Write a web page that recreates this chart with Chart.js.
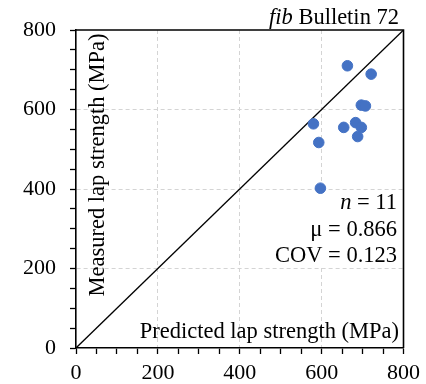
<!DOCTYPE html>
<html>
<head>
<meta charset="UTF-8">
<title>fib Bulletin 72</title>
<script src="https://cdn.jsdelivr.net/npm/chart.js"></script>
<style>
    body { margin: 0; background: #fff; }
    #wrap { width: 426px; height: 384px; }
</style>
</head>
<body>
<div id="wrap"><canvas id="chart"></canvas></div>
<script>
    // values (MPa)
    const predicted = [663, 721, 697, 707, 580, 654, 683, 697, 688, 593, 597];
    const measured  = [710, 689, 611, 609, 564, 555, 567, 555, 532, 517, 402];
    const equalityLine = [0, 800];
    const labelTicks = [0, 200, 400, 600, 800];
    const gridTicks = [200, 400, 600];
    const statLines = [['n', ' = 11'], ['', 'μ = 0.866'], ['', 'COV = 0.123']];

    const serif = '"Liberation Serif", "Times New Roman", serif';

    const points = predicted.map((x, i) => ({ x: x, y: measured[i] }));
    const diag = equalityLine.map(v => ({ x: v, y: v }));

    function gridColor(c) {
        return gridTicks.includes(c.tick && c.tick.value) ? '#d4d4d4' : 'rgba(0,0,0,0)';
    }

    const axis = (fit, pad) => ({
        type: 'linear',
        min: 0,
        max: 800,
        afterFit: fit,
        ticks: {
            stepSize: 50,
            autoSkip: false,
            maxRotation: 0,
            padding: pad,
            color: '#000',
            font: { family: serif, size: 22 },
            callback: v => labelTicks.includes(v) ? String(v) : ''
        },
        grid: {
            color: gridColor,
            lineWidth: 1,
            tickColor: '#000',
            tickLength: 6,
            tickWidth: 1.3
        },
        border: { color: '#000', width: 1.6, dash: [4, 3] }
    });

    // frame, stat box and the in-plot texts
    const overlay = {
        id: 'overlay',
        beforeDatasetsDraw(chart) {
            const ctx = chart.ctx;
            const a = chart.chartArea;
            ctx.save();
            ctx.fillStyle = '#fff';
            ctx.fillRect(268, 192, a.right - 268 - 1, 74);
            ctx.restore();
        },
        afterDraw(chart) {
            const ctx = chart.ctx;
            const a = chart.chartArea;
            const f = '22.5px ' + serif;
            const fi = 'italic 22.5px ' + serif;
            ctx.save();
            ctx.strokeStyle = '#000';
            ctx.lineWidth = 1.6;
            ctx.beginPath();
            ctx.moveTo(a.left, a.top);
            ctx.lineTo(a.right, a.top);
            ctx.lineTo(a.right, a.bottom);
            ctx.stroke();

            ctx.fillStyle = '#000';
            ctx.textBaseline = 'alphabetic';
            ctx.textAlign = 'right';

            // title top right, "fib" in italics
            ctx.font = f;
            const rest = ' Bulletin 72';
            const wRest = ctx.measureText(rest).width;
            ctx.fillText(rest, 399, 24);
            ctx.font = fi;
            ctx.fillText('fib', 399 - wRest, 24);

            // stats
            const base = [209, 235.5, 262];
            statLines.forEach((ln, i) => {
                ctx.font = f;
                const w = ctx.measureText(ln[1]).width;
                ctx.fillText(ln[1], 397, base[i]);
                if (ln[0]) {
                    ctx.font = fi;
                    ctx.fillText(ln[0], 397 - w, base[i]);
                }
            });

            // axis titles sit inside the plot
            ctx.font = f;
            ctx.fillText('Predicted lap strength (MPa)', 399, 338);

            ctx.translate(104, 165);
            ctx.rotate(-Math.PI / 2);
            ctx.textAlign = 'center';
            ctx.fillText('Measured lap strength (MPa)', 0, 0);
            ctx.restore();
        }
    };

    new Chart(document.getElementById('chart'), {
        type: 'scatter',
        data: {
            datasets: [
                {
                    data: points,
                    backgroundColor: '#4472C4',
                    borderColor: '#4472C4',
                    pointRadius: 5.3,
                    pointHoverRadius: 5.3,
                    order: 1
                },
                {
                    data: diag,
                    showLine: true,
                    borderColor: '#000',
                    borderWidth: 1.3,
                    pointRadius: 0,
                    order: 2
                }
            ]
        },
        options: {
            responsive: true,
            maintainAspectRatio: false,
            animation: false,
            layout: { padding: { top: 30, right: 22, left: 0, bottom: 0 } },
            plugins: {
                legend: { display: false },
                tooltip: { enabled: false }
            },
            scales: {
                x: axis(s => { s.height = 36; }, 6),
                y: axis(s => { s.width = 76; }, 14)
            }
        },
        plugins: [overlay]
    });
</script>
</body>
</html>
